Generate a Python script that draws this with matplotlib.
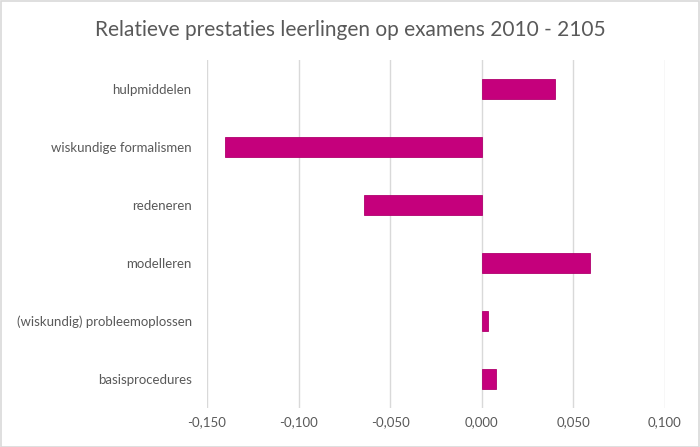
import matplotlib
matplotlib.use("Agg")
import matplotlib.pyplot as plt
from matplotlib.patches import Rectangle

categories = ["basisprocedures", "(wiskundig) probleemoplossen", "modelleren",
              "redeneren", "wiskundige formalismen", "hulpmiddelen"]
values = [0.008, 0.0035, 0.059, -0.064, -0.140, 0.040]
xticks = [-0.150, -0.100, -0.050, 0.000, 0.050, 0.100]
title = "Relatieve prestaties leerlingen op examens 2010 - 2105"

plt.rcParams['font.family'] = ['Lato', 'DejaVu Sans']

fig = plt.figure(figsize=(7, 4.47), dpi=100)
ax = fig.add_axes([0.2957, 0.0872, 0.654, 0.7785])

ax.barh(range(len(categories)), values, height=0.36, color="#C5007C",
        edgecolor="#B0006E", linewidth=0.6, zorder=3)
ax.set_xlim(-0.150, 0.100)
ax.set_ylim(-0.5, len(categories) - 0.5)
ax.set_xticks(xticks)
ax.set_xticklabels([f"{t:.3f}".replace(".", ",") for t in xticks])
ax.set_yticks(range(len(categories)))
ax.set_yticklabels(categories)
ax.tick_params(axis="both", length=0, colors="#595959", labelsize=9.5)
ax.tick_params(axis="x", pad=6)
ax.tick_params(axis="y", pad=11)
ax.grid(axis="x", color="#D9D9D9", linewidth=1, zorder=0)
for s in ax.spines.values():
    s.set_visible(False)

fig.text(0.5, 0.933, title, ha="center", va="center", fontsize=15, color="#595959")
fig.patches.append(Rectangle((0.001, 0.001), 0.997, 0.997, transform=fig.transFigure,
                             fill=False, edgecolor="#D9D9D9", linewidth=1.2))

fig.savefig("out.png", dpi=100)
